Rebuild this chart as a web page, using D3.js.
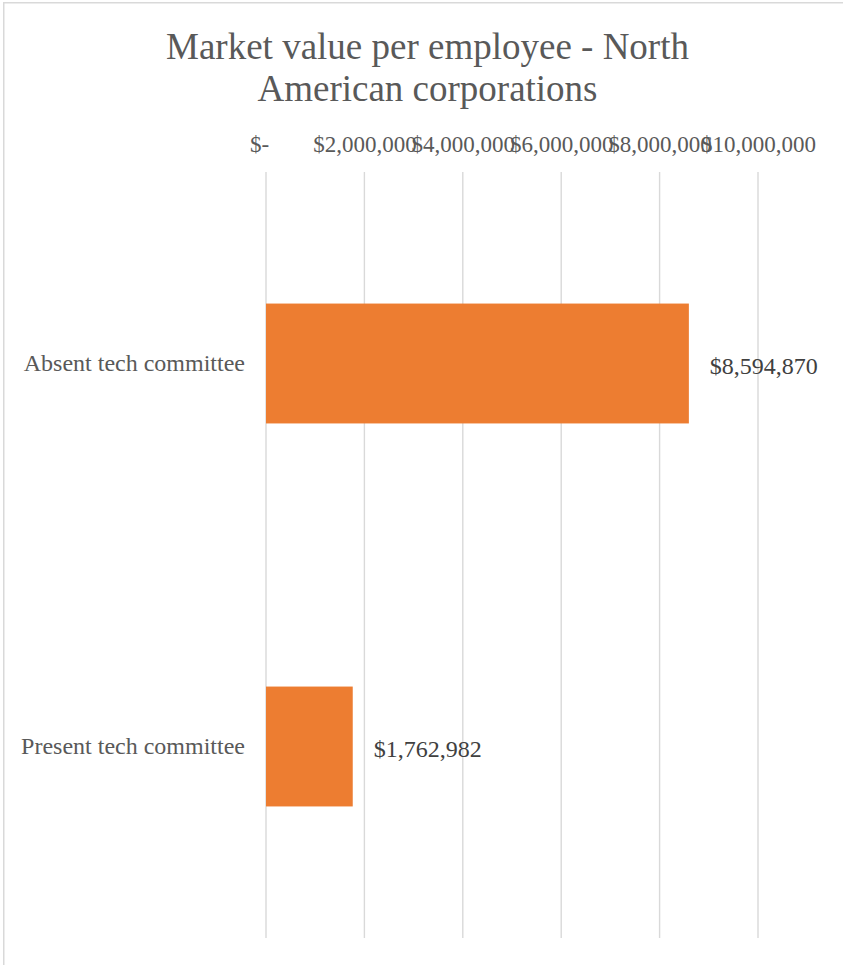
<!DOCTYPE html>
<html>
<head>
<meta charset="utf-8">
<script src="https://cdn.jsdelivr.net/npm/d3@7"></script>
<style>
  html, body { margin: 0; padding: 0; background: #ffffff; overflow: hidden; }
  svg { display: block; }
  text { font-family: "Liberation Serif", "Times New Roman", serif; }
</style>
</head>
<body>
<script>
// Chart data
const titleLines = ["Market value per employee - North", "American corporations"];
const categories = ["Absent tech committee", "Present tech committee"];
const values = [8594870, 1762982];
const tickValues = [0, 2000000, 4000000, 6000000, 8000000, 10000000];
const tickLabels = ["$-", "$2,000,000", "$4,000,000", "$6,000,000", "$8,000,000", "$10,000,000"];

const W = 843, H = 965;
const plot = { left: 266, right: 758, top: 172, bottom: 938 };

const svg = d3.select("body").append("svg")
  .attr("width", W).attr("height", H);

// Chart area frame (runs past the right and bottom edges)
svg.append("rect")
  .attr("x", 3.75).attr("y", 2.75)
  .attr("width", W + 50).attr("height", H + 50)
  .attr("fill", "#ffffff")
  .attr("stroke", "#d9d9d9")
  .attr("stroke-width", 1.5);

// Title
svg.append("text")
  .attr("x", 427.5).attr("y", 59)
  .attr("text-anchor", "middle")
  .attr("fill", "#595959")
  .style("font-size", "37px")
  .selectAll("tspan")
  .data(titleLines)
  .join("tspan")
  .attr("x", 427.5)
  .attr("dy", (d, i) => i === 0 ? 0 : 42)
  .text(d => d);

const x = d3.scaleLinear()
  .domain([0, 10000000])
  .range([plot.left, plot.right]);

const y = d3.scaleBand()
  .domain(categories)
  .range([plot.top, plot.bottom])
  .paddingInner(0.687)
  .paddingOuter(0.3435);

// Vertical gridlines
svg.append("g")
  .selectAll("line")
  .data(tickValues)
  .join("line")
  .attr("x1", d => x(d)).attr("x2", d => x(d))
  .attr("y1", plot.top).attr("y2", plot.bottom)
  .attr("stroke", "#d9d9d9")
  .attr("stroke-width", 1.4);

// Top value axis labels
const xAxis = d3.axisTop(x)
  .tickValues(tickValues)
  .tickFormat((d, i) => tickLabels[i])
  .tickSize(0)
  .tickPadding(0);

const axisG = svg.append("g")
  .attr("transform", `translate(0, 152)`)
  .call(xAxis);
axisG.select(".domain").remove();
axisG.selectAll("text")
  .attr("y", 0)
  .attr("dy", 0)
  .attr("dx", d => d === 0 ? -7 : 0)
  .attr("fill", "#595959")
  .style("font-family", "'Liberation Serif', 'Times New Roman', serif")
  .style("font-size", "23px");

// Category axis labels
const yAxis = d3.axisLeft(y).tickSize(0).tickPadding(21);
const yG = svg.append("g")
  .attr("transform", `translate(${plot.left}, 0)`)
  .call(yAxis);
yG.select(".domain").remove();
yG.selectAll("text")
  .attr("dy", "0.33em")
  .attr("fill", "#595959")
  .style("font-family", "'Liberation Serif', 'Times New Roman', serif")
  .style("font-size", "24px");

// Bars
svg.append("g")
  .selectAll("rect")
  .data(values)
  .join("rect")
  .attr("x", x(0))
  .attr("y", (d, i) => y(categories[i]))
  .attr("width", d => x(d) - x(0))
  .attr("height", y.bandwidth())
  .attr("fill", "#ed7d31");

// Value labels
const fmt = d3.format("$,.0f");
svg.append("g")
  .selectAll("text")
  .data(values)
  .join("text")
  .attr("x", d => x(d) + 21)
  .attr("y", (d, i) => y(categories[i]) + y.bandwidth() / 2)
  .attr("dy", "0.44em")
  .attr("fill", "#404040")
  .style("font-size", "24px")
  .text(d => fmt(d));
</script>
</body>
</html>
